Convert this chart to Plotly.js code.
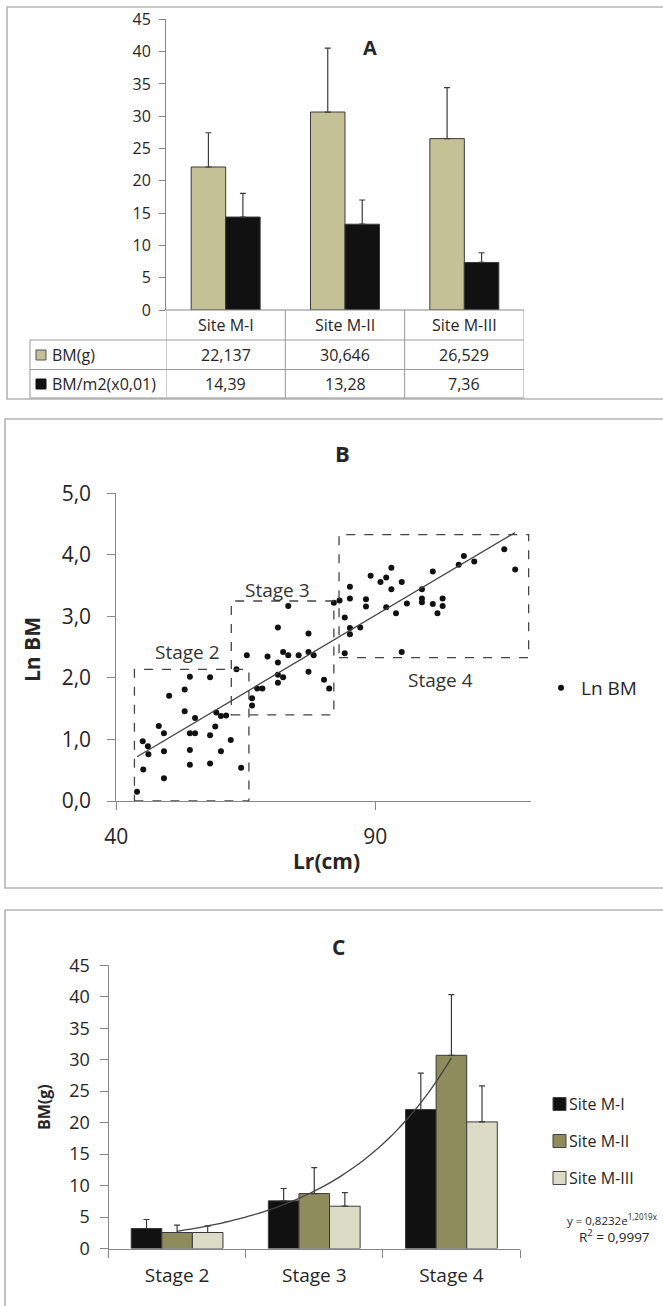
<!DOCTYPE html>
<html>
<head>
<meta charset="utf-8">
<script src="https://cdn.plot.ly/plotly-3.0.1.min.js"></script>
<style>html,body{margin:0;padding:0;background:#fff;}#chart{width:663px;height:1306px;}</style>
</head>
<body>
<div id="chart"></div>
<script>
// ---------- DATA ----------
// Panel A
const sitesA = ['Site M-I', 'Site M-II', 'Site M-III'];
const bmG = [22.137, 30.646, 26.529];
const bmGErr = [5.3, 9.9, 7.9];
const bmM2 = [14.39, 13.28, 7.36];
const bmM2Err = [3.65, 3.75, 1.5];
const rowLabelsA = ['BM(g)', 'BM/m2(x0,01)'];

// Panel B
const lrCm = [44.0, 45.1, 46.1, 46.2, 45.2, 48.2, 49.2, 49.2, 49.2, 50.2, 53.2, 53.2, 54.2, 54.2, 55.2, 55.2, 54.2, 54.2,
  58.1, 58.1, 58.1, 59.1, 59.3, 60.2, 60.2, 61.2, 62.1, 64.1, 63.2,
  65.2, 66.2, 66.2, 67.2, 68.2, 69.2, 71.2, 71.2, 71.2, 71.2, 72.2, 72.2, 73.2, 73.2, 75.2, 77.1, 77.1, 77.1, 78.1, 80.1, 81.1, 82.0,
  83.1, 84.1, 84.1, 85.1, 85.1, 85.1, 85.1, 87.1, 88.2, 88.2, 89.1, 91.0, 92.1, 92.1, 93.1, 93.1, 94.0, 95.1, 95.1, 96.1,
  99.0, 99.0, 99.0, 101.1, 101.1, 102.0, 103.0, 103.0, 106.1, 107.1, 109.1, 114.9, 117.0];
const lnBM = [0.15, 0.97, 0.89, 0.76, 0.51, 1.22, 1.10, 0.81, 0.37, 1.71, 1.81, 1.46, 2.02, 1.10, 1.10, 1.35, 0.83, 0.59,
  2.01, 1.07, 0.61, 1.21, 1.44, 0.81, 1.38, 1.39, 0.99, 0.54, 2.14,
  2.37, 1.67, 1.55, 1.83, 1.83, 2.35, 2.82, 2.25, 2.05, 1.92, 2.42, 2.01, 3.17, 2.37, 2.37, 2.72, 2.42, 2.10, 2.37, 1.97, 1.83, 3.22,
  3.26, 2.98, 2.40, 3.48, 3.29, 2.81, 2.71, 2.82, 3.28, 3.16, 3.66, 3.56, 3.63, 3.15, 3.79, 3.44, 3.05, 3.56, 2.42, 3.21,
  3.44, 3.29, 3.23, 3.73, 3.20, 3.05, 3.29, 3.17, 3.84, 3.98, 3.89, 4.09, 3.76];
const stageNamesB = ['Stage 2', 'Stage 3', 'Stage 4'];
const stageLrMin = [43.5, 62.2, 83.0];
const stageLrMax = [65.6, 82.0, 119.6];
const stageLnMin = [0.0, 1.40, 2.33];
const stageLnMax = [2.14, 3.25, 4.33];
const stageLabelLr = [53.7, 71.1, 102.5];
const stageLabelLn = [2.42, 3.43, 1.96];

// Panel C
const stagesC = ['Stage 2', 'Stage 3', 'Stage 4'];
const sitesC = ['Site M-I', 'Site M-II', 'Site M-III'];
const siteMI = [3.18, 7.57, 22.08];
const siteMIErr = [1.43, 1.96, 5.8];
const siteMII = [2.54, 8.73, 30.7];
const siteMIIErr = [1.17, 4.13, 9.64];
const siteMIII = [2.54, 6.72, 20.12];
const siteMIIIErr = [1.06, 2.17, 5.71];
const expA = 0.8232, expB = 1.2019, expR2 = '0,9997';

// ---------- HELPERS ----------
const W = 663, H = 1306;
const px = v => v / W;
const py = v => 1 - v / H;
const zeros = a => a.map(() => 0);
const comma = (v, d) => v.toFixed(d).replace('.', ',');
const axisGray = '#868686';
const txt = '#262626';
const FONT = 'Open Sans, Noto Sans, sans-serif';

const colA = ['#c5c197', '#111111'];
const colC = ['#111111', '#8e8b5c', '#dcdbc6'];
const barLine = {color: '#3a3a3a', width: 1};

// ---------- TRACES ----------
const traces = [];
// A
traces.push({type: 'bar', x: sitesA, y: bmG, xaxis: 'x', yaxis: 'y', name: rowLabelsA[0],
  width: 0.289, offset: -0.289, marker: {color: colA[0], line: barLine}, showlegend: false,
  error_y: {type: 'data', symmetric: false, array: bmGErr, arrayminus: zeros(bmGErr), color: '#3a3a3a', thickness: 1.2, width: 3}});
traces.push({type: 'bar', x: sitesA, y: bmM2, xaxis: 'x', yaxis: 'y', name: rowLabelsA[1],
  width: 0.289, offset: 0, marker: {color: colA[1], line: barLine}, showlegend: false,
  error_y: {type: 'data', symmetric: false, array: bmM2Err, arrayminus: zeros(bmM2Err), color: '#3a3a3a', thickness: 1.2, width: 3}});

// B scatter
traces.push({type: 'scatter', mode: 'markers', x: lrCm, y: lnBM, xaxis: 'x2', yaxis: 'y2', name: 'Ln BM',
  marker: {color: '#111', size: 6}, showlegend: true});
// B linear fit (least squares from the points)
(function () {
  const n = lrCm.length;
  const mx = lrCm.reduce((a, b) => a + b, 0) / n;
  const my = lnBM.reduce((a, b) => a + b, 0) / n;
  let sxy = 0, sxx = 0;
  for (let i = 0; i < n; i++) { sxy += (lrCm[i] - mx) * (lnBM[i] - my); sxx += (lrCm[i] - mx) ** 2; }
  const slope = sxy / sxx, icpt = my - slope * mx;
  const x0 = Math.min(...lrCm), x1 = Math.max(...lrCm);
  traces.push({type: 'scatter', mode: 'lines', x: [x0, x1], y: [icpt + slope * x0, icpt + slope * x1],
    xaxis: 'x2', yaxis: 'y2', line: {color: '#444', width: 1.3}, showlegend: false, hoverinfo: 'skip'});
})();

// C bars
const cVals = [siteMI, siteMII, siteMIII];
const cErrs = [siteMIErr, siteMIIErr, siteMIIIErr];
const cW = 0.223;
for (let k = 0; k < 3; k++) {
  traces.push({type: 'bar', x: stagesC, y: cVals[k], xaxis: 'x3', yaxis: 'y3', name: sitesC[k],
    width: cW, offset: -1.5 * cW + k * cW, marker: {color: colC[k], line: barLine}, showlegend: false,
    error_y: {type: 'data', symmetric: false, array: cErrs[k], arrayminus: zeros(cErrs[k]), color: '#3a3a3a', thickness: 1.2, width: 3}});
}
// C exponential trendline from the printed equation
(function () {
  const xs = [], ys = [];
  for (let i = 0; i <= 40; i++) { const x = 1 + i * 0.05; xs.push(x); ys.push(expA * Math.exp(expB * x)); }
  traces.push({type: 'scatter', mode: 'lines', x: xs, y: ys, xaxis: 'x4', yaxis: 'y3',
    line: {color: '#444', width: 1.3, shape: 'spline'}, showlegend: false, hoverinfo: 'skip'});
})();

// ---------- SHAPES ----------
const shapes = [];
const frame = '#b5b5b5';
shapes.push({type: 'rect', xref: 'paper', yref: 'paper', x0: px(7), x1: 1.05, y0: py(7), y1: py(399), line: {color: frame, width: 1.6}});
shapes.push({type: 'rect', xref: 'paper', yref: 'paper', x0: px(5), x1: 1.05, y0: py(419), y1: py(888), line: {color: frame, width: 1.6}});
shapes.push({type: 'rect', xref: 'paper', yref: 'paper', x0: px(5), x1: 1.05, y0: py(910), y1: -0.05, line: {color: frame, width: 1.6}});

// Table A
const tl = {color: '#9a9a9a', width: 1};
const rowY = [310, 340, 369.5, 398];
shapes.push({type: 'line', xref: 'paper', yref: 'paper', x0: px(166), x1: px(524), y0: py(rowY[0]), y1: py(rowY[0]), line: {color: axisGray, width: 1}});
for (let r = 1; r < rowY.length; r++) {
  shapes.push({type: 'line', xref: 'paper', yref: 'paper', x0: px(30), x1: px(524), y0: py(rowY[r]), y1: py(rowY[r]), line: tl});
}
shapes.push({type: 'line', xref: 'paper', yref: 'paper', x0: px(30), x1: px(30), y0: py(rowY[1]), y1: py(rowY[3]), line: tl});
for (let i = 0; i <= sitesA.length; i++) {
  shapes.push({type: 'line', xref: 'x', yref: 'paper', x0: i - 0.5, x1: i - 0.5, y0: py(rowY[0]), y1: py(rowY[3]), line: tl});
}
// table legend keys
shapes.push({type: 'rect', xref: 'paper', yref: 'paper', x0: px(36), x1: px(46), y0: py(360), y1: py(350), fillcolor: colA[0], line: {color: '#555', width: 1}});
shapes.push({type: 'rect', xref: 'paper', yref: 'paper', x0: px(36), x1: px(46), y0: py(389), y1: py(379), fillcolor: colA[1], line: {color: '#111', width: 1}});

// Stage boxes B
for (let s = 0; s < 3; s++) {
  shapes.push({type: 'rect', xref: 'x2', yref: 'y2', x0: stageLrMin[s], x1: stageLrMax[s], y0: stageLnMin[s], y1: stageLnMax[s],
    line: {color: '#444', width: 1.3, dash: 'dash'}});
}

// Legend C keys
const legCY = [1104, 1141, 1178];
for (let k = 0; k < 3; k++) {
  shapes.push({type: 'rect', xref: 'paper', yref: 'paper', x0: px(553), x1: px(566), y0: py(legCY[k] + 6.5), y1: py(legCY[k] - 6.5),
    fillcolor: colC[k], line: {color: '#444', width: 1}});
}

// ---------- ANNOTATIONS ----------
const ann = [];
const A = (o) => ann.push(Object.assign({showarrow: false, xanchor: 'center', yanchor: 'middle',
  font: {family: FONT, color: txt, size: 16}}, o));
// titles
A({text: '<b>A</b>', xref: 'paper', yref: 'paper', x: px(370), y: py(47), font: {family: FONT, color: txt, size: 20}});
A({text: '<b>B</b>', xref: 'paper', yref: 'paper', x: px(342), y: py(453), font: {family: FONT, color: txt, size: 22}});
A({text: '<b>C</b>', xref: 'paper', yref: 'paper', x: px(338), y: py(947), font: {family: FONT, color: txt, size: 21}});
// table A text
sitesA.forEach((s, i) => {
  A({text: s, xref: 'x', yref: 'paper', x: i, y: py(325)});
  A({text: comma(bmG[i], 3), xref: 'x', yref: 'paper', x: i, y: py(355)});
  A({text: comma(bmM2[i], 2), xref: 'x', yref: 'paper', x: i, y: py(384)});
});
A({text: rowLabelsA[0], xref: 'paper', yref: 'paper', x: px(50), y: py(355), xanchor: 'left'});
A({text: rowLabelsA[1], xref: 'paper', yref: 'paper', x: px(50), y: py(384), xanchor: 'left'});
// B axis titles and stage labels
A({text: '<b>Ln BM</b>', xref: 'paper', yref: 'paper', x: px(32), y: py(650), textangle: -90, font: {family: FONT, color: txt, size: 21}});
A({text: '<b>Lr(cm)</b>', xref: 'paper', yref: 'paper', x: px(326), y: py(861), font: {family: FONT, color: txt, size: 21}});
stageNamesB.forEach((s, i) => A({text: s, xref: 'x2', yref: 'y2', x: stageLabelLr[i], y: stageLabelLn[i], font: {family: FONT, color: '#333', size: 19}}));
// C axis title, legend and equation
A({text: '<b>BM(g)</b>', xref: 'paper', yref: 'paper', x: px(44), y: py(1107), textangle: -90, font: {family: FONT, color: txt, size: 16}});
sitesC.forEach((s, k) => A({text: s, xref: 'paper', yref: 'paper', x: px(567), y: py(legCY[k]), xanchor: 'left', font: {family: FONT, color: txt, size: 16}}));
A({text: 'y = ' + comma(expA, 4) + 'e<sup>' + comma(expB, 4) + 'x</sup>', xref: 'paper', yref: 'paper', x: px(565), y: py(1219), xanchor: 'left', font: {family: FONT, color: txt, size: 11.5}});
A({text: 'R<sup>2</sup> = ' + expR2, xref: 'paper', yref: 'paper', x: px(614), y: py(1236), font: {family: FONT, color: txt, size: 13.5}});

// ---------- LAYOUT ----------
const baseAx = {showgrid: false, zeroline: false, showline: true, linecolor: axisGray, linewidth: 1, ticks: 'outside', tickcolor: axisGray, fixedrange: true};
const layout = {
  width: W, height: H, margin: {l: 0, r: 0, t: 0, b: 0},
  paper_bgcolor: '#ffffff', plot_bgcolor: 'rgba(0,0,0,0)',
  separators: ', ',
  font: {family: FONT, color: txt, size: 15},
  barmode: 'group',
  showlegend: true,
  legend: {x: px(541), y: py(688), xanchor: 'left', yanchor: 'middle', bgcolor: 'rgba(0,0,0,0)', font: {size: 19, color: txt}},
  xaxis: Object.assign({}, baseAx, {domain: [px(166), px(524)], anchor: 'y', type: 'category', range: [-0.5, 2.5], showticklabels: false, ticks: '', showline: false}),
  yaxis: Object.assign({}, baseAx, {domain: [py(310), py(19.3)], anchor: 'x', range: [0, 45], tick0: 0, dtick: 5, ticklen: 6, tickfont: {size: 16, color: txt}, ticklabelstandoff: 5}),
  xaxis2: Object.assign({}, baseAx, {domain: [px(116.3), px(530.7)], anchor: 'y2', range: [40, 120], tick0: 40, dtick: 50, ticklen: 8, tickfont: {size: 21, color: txt}, ticklabelstandoff: 9}),
  yaxis2: Object.assign({}, baseAx, {domain: [py(801), py(493.3)], anchor: 'x2', range: [0, 5], tick0: 0, dtick: 1, tickformat: '.1f', ticklen: 8, tickfont: {size: 21, color: txt}, ticklabelstandoff: 12}),
  xaxis3: Object.assign({}, baseAx, {domain: [px(108.5), px(520)], anchor: 'y3', type: 'category', range: [-0.5, 2.5], tickson: 'boundaries', ticklen: 8, tickfont: {size: 19, color: txt}, ticklabelstandoff: 10}),
  yaxis3: Object.assign({}, baseAx, {domain: [py(1248.5), py(965.3)], anchor: 'x3', range: [0, 45], tick0: 0, dtick: 5, ticklen: 8, tickfont: {size: 18, color: txt}, ticklabelstandoff: 6}),
  xaxis4: {domain: [px(108.5), px(520)], anchor: 'y3', overlaying: 'x3', range: [0.5, 3.5], visible: false, fixedrange: true},
  shapes: shapes,
  annotations: ann
};

Plotly.newPlot('chart', traces, layout, {staticPlot: true, displayModeBar: false});
</script>
</body>
</html>
